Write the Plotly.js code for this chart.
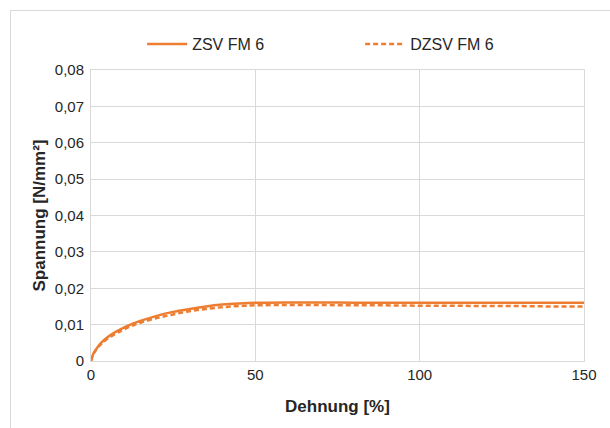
<!DOCTYPE html>
<html>
<head>
<meta charset="utf-8">
<script src="https://cdn.plot.ly/plotly-3.0.1.min.js"></script>
<style>
html,body{margin:0;padding:0;background:#fff;overflow:hidden;}
#frame{position:absolute;left:10px;top:10px;width:640px;height:460px;border:1px solid #d9d9d9;box-sizing:border-box;pointer-events:none;}
#chart{position:absolute;left:0;top:0;width:610px;height:428px;}
</style>
</head>
<body>
<div id="chart"></div>
<div id="frame"></div>
<script>
const strain = [0,0.5,1,2,3,5,7.5,10,12.5,15,20,25,30,35,40,45,50,60,70,80,90,100,110,120,130,140,150];
const zsv = [0,0.0015,0.0025,0.0038,0.0049,0.0065,0.0080,0.0092,0.0102,0.0110,0.0124,0.0135,0.0143,0.0150,0.0155,0.0158,0.0160,0.0161,0.0161,0.0160,0.0160,0.0160,0.0160,0.0160,0.0160,0.0160,0.0160];
const dzsv = [0,0.0014,0.0023,0.0036,0.0046,0.0061,0.0075,0.0087,0.0097,0.0105,0.0118,0.0128,0.0137,0.0143,0.0148,0.0151,0.0153,0.0154,0.0154,0.0153,0.0153,0.0152,0.0152,0.0151,0.0151,0.0150,0.0150];
const seriesNames = ['ZSV FM 6','DZSV FM 6'];
const yTickVals = [0,0.01,0.02,0.03,0.04,0.05,0.06,0.07,0.08];
const yTickText = ['0','0,01','0,02','0,03','0,04','0,05','0,06','0,07','0,08'];
const xTickVals = [0,50,100,150];
const xTickText = ['0','50','100','150'];

const color = '#ED7D31';
const traces = [
  {x: strain, y: zsv, name: seriesNames[0], type:'scatter', mode:'lines', line:{color:color, width:2.5, shape:'spline'}},
  {x: strain, y: dzsv, name: seriesNames[1], type:'scatter', mode:'lines', line:{color:color, width:2.5, dash:'5px,3px', shape:'spline'}}
];
const gridc = '#d9d9d9';
const txt = '#262626';
const layout = {
  width:610, height:428,
  margin:{l:91, r:26, t:70, b:67},
  paper_bgcolor:'rgba(0,0,0,0)', plot_bgcolor:'#fff',
  font:{family:'Liberation Sans, Arial, sans-serif', size:15, color:txt},
  showlegend:true,
  legend:{orientation:'h', xref:'container', yref:'container', x:0.233, xanchor:'left', y:0.897, yanchor:'middle',
          font:{size:16, color:txt}, itemwidth:40, entrywidth:163, traceorder:'normal'},
  xaxis:{range:[0,150], tickvals:xTickVals, ticktext:xTickText, showgrid:true, gridcolor:gridc, gridwidth:1,
         zeroline:false, showline:true, linecolor:gridc, mirror:true, ticks:'', ticklen:0,
         title:{text:'<b>Dehnung [%]</b>', font:{size:17, color:txt}, standoff:18}, fixedrange:true},
  yaxis:{range:[0,0.08], tickvals:yTickVals, ticktext:yTickText, showgrid:true, gridcolor:gridc, gridwidth:1,
         zeroline:false, showline:true, linecolor:gridc, mirror:true, ticks:'', ticklen:0, ticklabelstandoff:3,
         title:{text:'<b>Spannung [N/mm²]</b>', font:{size:17, color:txt}, standoff:4}, fixedrange:true}
};
Plotly.newPlot('chart', traces, layout, {displayModeBar:false, staticPlot:true});
</script>
</body>
</html>
